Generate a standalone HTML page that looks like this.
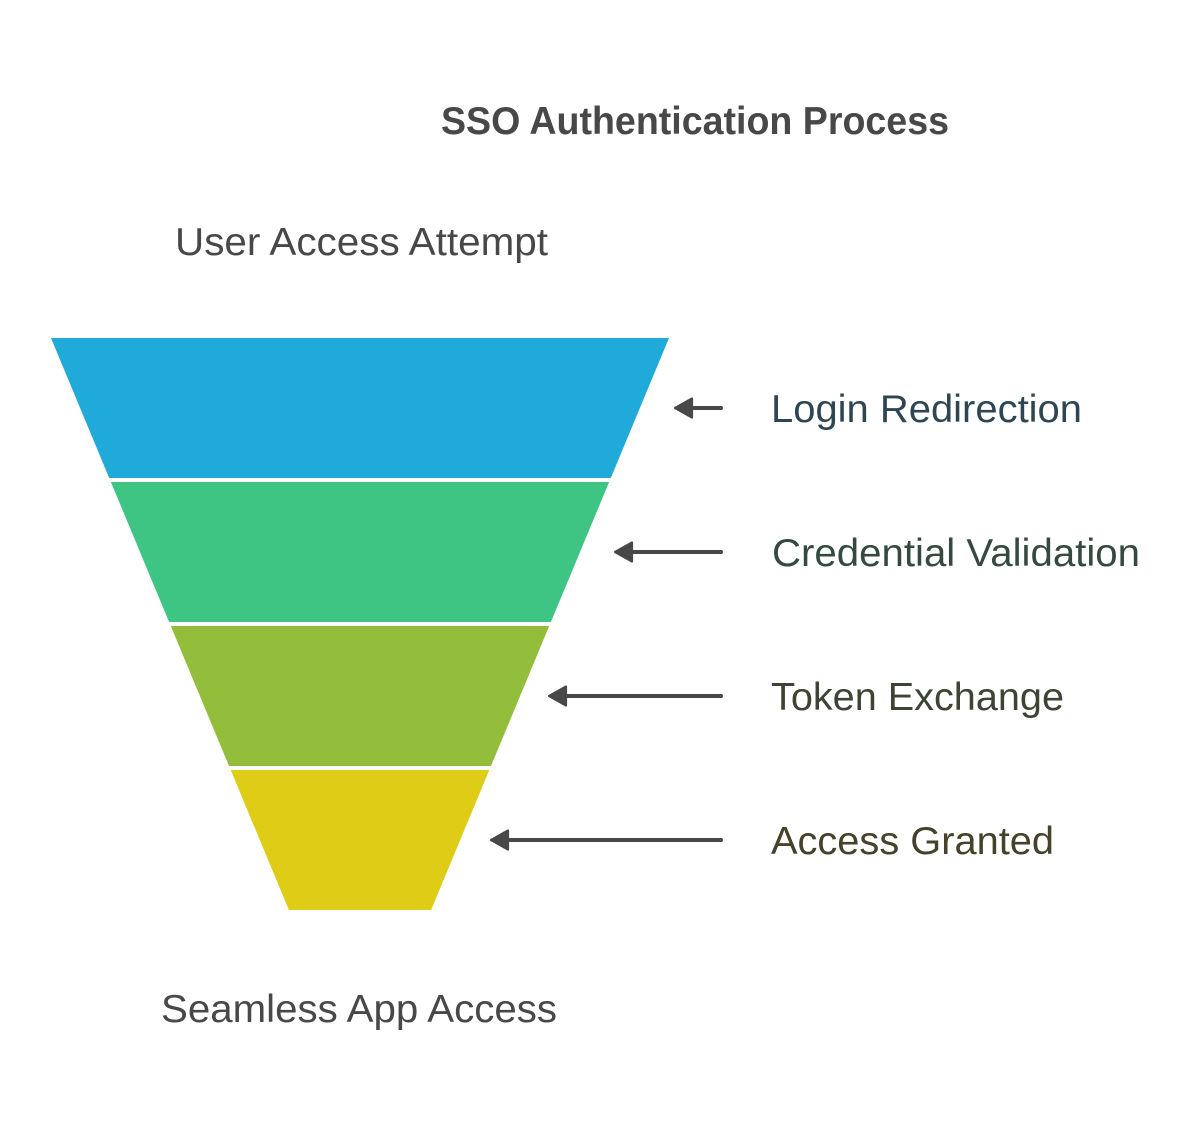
<!DOCTYPE html>
<html>
<head>
<meta charset="utf-8">
<style>
  html, body { margin: 0; padding: 0; background: #ffffff; }
  body { width: 1201px; height: 1129px; overflow: hidden; }
  svg { display: block; }
  text { font-family: "Liberation Sans", Arial, sans-serif; }
</style>
</head>
<body>
<svg width="1201" height="1129" viewBox="0 0 1201 1129" xmlns="http://www.w3.org/2000/svg">
  <rect x="0" y="0" width="1201" height="1129" fill="#ffffff"/>

  <!-- Title -->
  <text x="441" y="134" font-size="39" font-weight="bold" fill="#484848" textLength="508" lengthAdjust="spacingAndGlyphs">SSO Authentication Process</text>

  <!-- Top label -->
  <text x="175" y="255" font-size="39" fill="#484848" textLength="373" lengthAdjust="spacingAndGlyphs">User Access Attempt</text>

  <!-- Funnel segments -->
  <polygon points="51,338 669,338 610.8,478 109.2,478" fill="#1FAAD9"/>
  <polygon points="110.9,482 609.1,482 550.9,622 169.1,622" fill="#3EC584"/>
  <polygon points="170.8,626 549.2,626 491,766 229,766" fill="#93BE3B"/>
  <polygon points="230.7,770 489.3,770 431.1,910 288.9,910" fill="#DFCC17"/>

  <!-- Arrows -->
  <g stroke="#484848" fill="#484848" stroke-linecap="round" stroke-linejoin="round">
    <line x1="689" y1="408" x2="721" y2="408" stroke-width="4"/>
    <path d="M675,408 L692,398.5 L692,417.5 Z" stroke-width="2.2"/>

    <line x1="629" y1="552" x2="721" y2="552" stroke-width="4"/>
    <path d="M615,552 L632,542.5 L632,561.5 Z" stroke-width="2.2"/>

    <line x1="563" y1="696" x2="721" y2="696" stroke-width="4"/>
    <path d="M549,696 L566,686.5 L566,705.5 Z" stroke-width="2.2"/>

    <line x1="505" y1="840" x2="721" y2="840" stroke-width="4"/>
    <path d="M491,840 L508,830.5 L508,849.5 Z" stroke-width="2.2"/>
  </g>

  <!-- Right labels -->
  <text x="771" y="422" font-size="39" fill="#2E4653" textLength="311" lengthAdjust="spacingAndGlyphs">Login Redirection</text>
  <text x="772" y="566" font-size="39" fill="#34493F" textLength="368" lengthAdjust="spacingAndGlyphs">Credential Validation</text>
  <text x="771" y="710" font-size="39" fill="#3E4433" textLength="293" lengthAdjust="spacingAndGlyphs">Token Exchange</text>
  <text x="771" y="854" font-size="39" fill="#45412A" textLength="283" lengthAdjust="spacingAndGlyphs">Access Granted</text>

  <!-- Bottom label -->
  <text x="161" y="1022" font-size="39" fill="#484848" textLength="396" lengthAdjust="spacingAndGlyphs">Seamless App Access</text>
</svg>
</body>
</html>
